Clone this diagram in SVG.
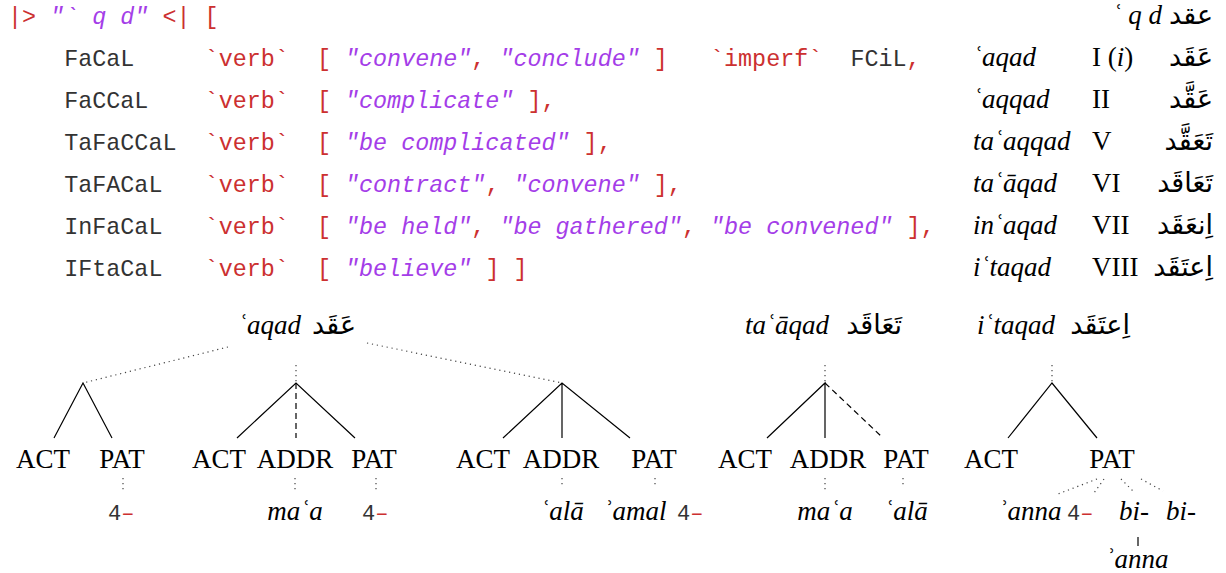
<svg xmlns="http://www.w3.org/2000/svg" width="1226" height="573" viewBox="0 0 1226 573">
<style>
.mono{font-family:"Liberation Mono","DejaVu Sans Mono",monospace;font-size:23.4px;fill:#333}
.r{fill:#cc3030}
.s{fill:#a43de8;font-style:italic}
.serif{font-family:"Liberation Serif","DejaVu Serif",serif;font-size:27px;fill:#000}
.it{font-style:italic}
.ar{font-family:"DejaVu Sans",sans-serif;font-size:27px;fill:#000}
.m{fill:#e00000}
.lbl{font-family:"Liberation Serif","DejaVu Serif",serif;font-size:27px;fill:#000;text-anchor:middle}
.sm{font-family:"Liberation Mono","DejaVu Sans Mono",monospace;font-size:22px;fill:#333}
.sol{stroke:#000;stroke-width:1.2;fill:none}
.dot{stroke:#444;stroke-width:1.2;stroke-dasharray:1.2 3.8;fill:none}
.dsh{stroke:#000;stroke-width:1.2;stroke-dasharray:6 4;fill:none}
</style>
<rect width="1226" height="573" fill="#fff"/>
<g id="code">
<g id="line0"><text class="mono" y="24"><tspan class="r" x="8">|&gt;</tspan><tspan class="s" x="50.1">"` q d"</tspan><tspan class="r" x="162.4">&lt;|</tspan><tspan class="r" x="204.6">[</tspan></text></g>
<g id="line1"><text class="mono" y="66"><tspan x="64.2">FaCaL</tspan><tspan class="r" x="204.6">`verb`</tspan><tspan class="r" x="316.9">[</tspan><tspan class="s" x="345">"convene"</tspan><tspan class="r" x="471.3">,</tspan><tspan class="s" x="499.4">"conclude"</tspan><tspan class="r" x="653.8">]</tspan><tspan class="r" x="710">`imperf`</tspan><tspan x="850.4">FCiL</tspan><tspan class="r" x="906.6">,</tspan></text></g>
<g id="line2"><text class="mono" y="108"><tspan x="64.2">FaCCaL</tspan><tspan class="r" x="204.6">`verb`</tspan><tspan class="r" x="316.9">[</tspan><tspan class="s" x="345">"complicate"</tspan><tspan class="r" x="527.5">],</tspan></text></g>
<g id="line3"><text class="mono" y="150"><tspan x="64.2">TaFaCCaL</tspan><tspan class="r" x="204.6">`verb`</tspan><tspan class="r" x="316.9">[</tspan><tspan class="s" x="345">"be complicated"</tspan><tspan class="r" x="583.6">],</tspan></text></g>
<g id="line4"><text class="mono" y="192"><tspan x="64.2">TaFACaL</tspan><tspan class="r" x="204.6">`verb`</tspan><tspan class="r" x="316.9">[</tspan><tspan class="s" x="345">"contract"</tspan><tspan class="r" x="485.4">,</tspan><tspan class="s" x="513.4">"convene"</tspan><tspan class="r" x="653.8">],</tspan></text></g>
<g id="line5"><text class="mono" y="234"><tspan x="64.2">InFaCaL</tspan><tspan class="r" x="204.6">`verb`</tspan><tspan class="r" x="316.9">[</tspan><tspan class="s" x="345">"be held"</tspan><tspan class="r" x="471.3">,</tspan><tspan class="s" x="499.4">"be gathered"</tspan><tspan class="r" x="681.9">,</tspan><tspan class="s" x="710">"be convened"</tspan><tspan class="r" x="906.6">],</tspan></text></g>
<g id="line6"><text class="mono" y="276"><tspan x="64.2">IFtaCaL</tspan><tspan class="r" x="204.6">`verb`</tspan><tspan class="r" x="316.9">[</tspan><tspan class="s" x="345">"believe"</tspan><tspan class="r" x="485.4">]</tspan><tspan class="r" x="513.4">]</tspan></text></g>
</g>
<g id="table">
<g id="row0"><text class="serif it" x="1162" y="24" text-anchor="end">ʿ q d</text><text class="ar" x="1213" y="24" text-anchor="end">عقد</text></g>
<g id="row1"><text class="serif it" x="973" y="66">ʿaqad</text><text class="serif" x="1092" y="66">I (<tspan class="it">i</tspan>)</text><text class="ar" x="1213" y="66" text-anchor="end">ع<tspan class="m">َ</tspan>ق<tspan class="m">َ</tspan>د</text></g>
<g id="row2"><text class="serif it" x="973" y="108">ʿaqqad</text><text class="serif" x="1092" y="108">II</text><text class="ar" x="1213" y="108" text-anchor="end">ع<tspan class="m">َ</tspan>ق<tspan class="m">َّ</tspan>د</text></g>
<g id="row3"><text class="serif it" x="973" y="150">taʿaqqad</text><text class="serif" x="1092" y="150">V</text><text class="ar" x="1213" y="150" text-anchor="end">ت<tspan class="m">َ</tspan>ع<tspan class="m">َ</tspan>ق<tspan class="m">َّ</tspan>د</text></g>
<g id="row4"><text class="serif it" x="973" y="192">taʿāqad</text><text class="serif" x="1092" y="192">VI</text><text class="ar" x="1213" y="192" text-anchor="end">ت<tspan class="m">َ</tspan>ع<tspan class="m">َ</tspan>اق<tspan class="m">َ</tspan>د</text></g>
<g id="row5"><text class="serif it" x="973" y="234">inʿaqad</text><text class="serif" x="1092" y="234">VII</text><text class="ar" x="1213" y="234" text-anchor="end">ا<tspan class="m">ِ</tspan>نع<tspan class="m">َ</tspan>ق<tspan class="m">َ</tspan>د</text></g>
<g id="row6"><text class="serif it" x="973" y="276">iʿtaqad</text><text class="serif" x="1092" y="276">VIII</text><text class="ar" x="1213" y="276" text-anchor="end">ا<tspan class="m">ِ</tspan>عت<tspan class="m">َ</tspan>ق<tspan class="m">َ</tspan>د</text></g>
</g>
<g id="connectors">
<line class="dot" x1="228" y1="347" x2="83" y2="383"/>
<line class="dot" x1="367" y1="343" x2="562" y2="383"/>
<line class="dot" x1="296" y1="365" x2="296" y2="383"/>
<line class="dot" x1="825" y1="365" x2="825" y2="383"/>
<line class="dot" x1="1052" y1="365" x2="1052" y2="383"/>
<path class="sol" d="M54 438L83 383L112 438"/>
<path class="sol" d="M237 438L296 383L355 438"/>
<line class="dsh" x1="296" y1="383" x2="296" y2="438"/>
<path class="sol" d="M503 438L562 383L630 438M562 383V438"/>
<path class="sol" d="M767 438L825 383V438"/>
<line class="dsh" x1="825" y1="383" x2="883" y2="438"/>
<path class="sol" d="M1008 438L1052 383L1097 438"/>
<line class="dot" x1="123" y1="478" x2="123" y2="493"/>
<line class="dot" x1="295" y1="478" x2="295" y2="493"/>
<line class="dot" x1="376" y1="478" x2="376" y2="493"/>
<line class="dot" x1="562" y1="478" x2="562" y2="488"/>
<line class="dot" x1="655" y1="478" x2="655" y2="488"/>
<line class="dot" x1="825" y1="478" x2="825" y2="493"/>
<line class="dot" x1="903" y1="478" x2="903" y2="488"/>
<line class="dot" x1="1097" y1="479" x2="1058" y2="494"/>
<line class="dot" x1="1104" y1="479" x2="1094" y2="493"/>
<line class="dot" x1="1121" y1="479" x2="1133" y2="491"/>
<line class="dot" x1="1141" y1="479" x2="1163" y2="491"/>
<line class="sol" x1="1138" y1="537" x2="1138" y2="546"/>
</g>
<g id="root-aqad"><text class="serif it" x="238" y="334">ʿaqad</text><text class="ar" x="356" y="334" text-anchor="end">ع<tspan class="m">َ</tspan>ق<tspan class="m">َ</tspan>د</text></g>
<g id="root-taaqad"><text class="serif it" x="745" y="334">taʿāqad</text><text class="ar" x="902" y="334" text-anchor="end">ت<tspan class="m">َ</tspan>ع<tspan class="m">َ</tspan>اق<tspan class="m">َ</tspan>د</text></g>
<g id="root-itaqad"><text class="serif it" x="977" y="334">iʿtaqad</text><text class="ar" x="1130" y="334" text-anchor="end">ا<tspan class="m">ِ</tspan>عت<tspan class="m">َ</tspan>ق<tspan class="m">َ</tspan>د</text></g>
<g id="treeA">
<g id="a-act"><text class="lbl" x="43" y="468">ACT</text></g>
<g id="a-pat"><text class="lbl" x="122" y="468">PAT</text><text class="sm" x="108" y="520">4<tspan class="r">–</tspan></text></g>
</g>
<g id="treeB">
<g id="b-act"><text class="lbl" x="219" y="468">ACT</text></g>
<g id="b-addr"><text class="lbl" x="295" y="468">ADDR</text><text class="lbl it" x="295" y="520">maʿa</text></g>
<g id="b-pat"><text class="lbl" x="374" y="468">PAT</text><text class="sm" x="362" y="520">4<tspan class="r">–</tspan></text></g>
</g>
<g id="treeC">
<g id="c-act"><text class="lbl" x="483" y="468">ACT</text></g>
<g id="c-addr"><text class="lbl" x="561" y="468">ADDR</text><text class="lbl it" x="562" y="520">ʿalā</text></g>
<g id="c-pat"><text class="lbl" x="654" y="468">PAT</text><text class="lbl it" x="635" y="520">ʾamal</text><text class="sm" x="677" y="520">4<tspan class="r">–</tspan></text></g>
</g>
<g id="treeD">
<g id="d-act"><text class="lbl" x="745" y="468">ACT</text></g>
<g id="d-addr"><text class="lbl" x="828" y="468">ADDR</text><text class="lbl it" x="825" y="520">maʿa</text></g>
<g id="d-pat"><text class="lbl" x="906" y="468">PAT</text><text class="lbl it" x="906" y="520">ʿalā</text></g>
</g>
<g id="treeE">
<g id="e-act"><text class="lbl" x="991" y="468">ACT</text></g>
<g id="e-pat"><text class="lbl" x="1112" y="468">PAT</text></g>
<g id="e-anna"><text class="lbl it" x="1030" y="520">ʾanna</text></g>
<g id="e-4"><text class="sm" x="1067" y="520">4<tspan class="r">–</tspan></text></g>
<g id="e-bi1"><text class="lbl it" x="1134" y="520">bi-</text><text class="lbl it" x="1137" y="568">ʾanna</text></g>
<g id="e-bi2"><text class="lbl it" x="1181" y="520">bi-</text></g>
</g>
</svg>
